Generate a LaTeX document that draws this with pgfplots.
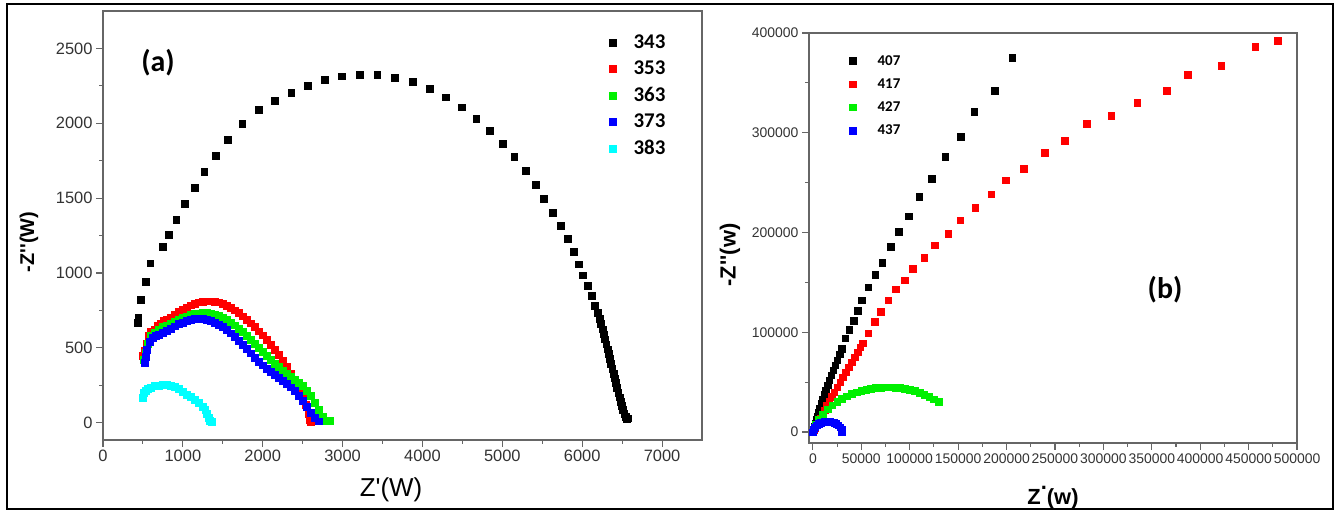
\documentclass[border=0pt]{standalone}
\usepackage{pgfplots}
\pgfplotsset{compat=1.18}
\usepackage{fontspec}
\setmainfont{Liberation Sans}
\newfontfamily\calfont{Carlito}
\definecolor{cgreen}{RGB}{0,240,0}
\definecolor{ccyan}{RGB}{0,255,255}
\definecolor{cred}{RGB}{255,0,0}
\definecolor{cblue}{RGB}{0,0,255}
\pgfplotsset{
  myaxis/.style={
    anchor=south west, scale only axis,
    axis line style={black!60, line width=1.3bp},
    every tick/.style={black!60, line width=1.1bp},
    tick align=outside, tick pos=left,
    major tick length=7bp, minor tick length=4bp,
    scaled ticks=false,
    /pgf/number format/fixed,
    /pgf/number format/1000 sep={},
    /pgf/number format/assume math mode=true,
    ticklabel style={text=black!80},
    legend cell align=left,
  }
}
\begin{document}
\begin{tikzpicture}[x=1bp,y=1bp]
\useasboundingbox (0,0) rectangle (1341,511);
\draw[line width=2bp] (7,2) rectangle (1333,507);
% ---------------- panel (a)
\begin{axis}[myaxis,
  at={(103bp,71bp)}, width=599bp, height=429bp,
  xmin=0, xmax=7500, ymin=-115, ymax=2750,
  xtick={0,1000,...,7000}, ytick={0,500,...,2500},
  minor x tick num=1, minor y tick num=1,
  ticklabel style={font=\fontsize{16.5}{18}\selectfont},
  legend image code/.code={\draw[#1] plot coordinates {(0bp,0bp)}; \path (-4bp,0bp) (19bp,0bp);},
  legend style={draw=none, fill=none, inner sep=0pt, column sep=0pt, at={(0.843,0.949)}, anchor=north west,
    font=\calfont\bfseries\fontsize{21}{24}\selectfont, row sep=7bp},
]
\addplot[only marks, mark=square*, mark size=3.4bp, black] coordinates {
(430,670)(440,700)(469,822)(536,944)(592,1066)(743,1177)(821,1254)(916,1354)(1022,1465)(1145,1569)
(1267,1675)(1407,1786)(1558,1893)(1742,1999)(1949,2092)(2150,2150)(2356,2203)(2563,2250)(2775,2289)
(2993,2314)(3210,2325)(3434,2323)(3657,2305)(3875,2276)(4093,2230)(4288,2174)(4489,2108)(4673,2032)
(4841,1953)(5003,1866)(5148,1775)(5293,1682)(5416,1591)(5522,1494)(5634,1405)(5734,1314)(5818,1228)
(5891,1144)(5952,1059)(6002,986)(6064,918)(6114,849)(6153,782)(6190,735)
(6215,695)(6235,660)(6252,625)(6268,592)(6284,558)(6300,525)(6315,492)(6330,460)(6345,427)(6360,395)
(6375,362)(6390,330)(6405,298)(6420,266)(6435,234)(6450,202)(6465,171)(6480,141)(6495,112)(6510,85)
(6525,60)(6540,40)(6550,30)(6560,25)(6565,30)
};
\addlegendentry{343}
\addplot[only marks, mark=square*, mark size=3.4bp, cred] coordinates {
(500,450)(520,480)(540,530)(570,580)(600,610)(640,620)(680,650)(720,660)(760,680)(800,690)
(850,700)(900,720)(950,740)(1000,755)(1050,770)(1100,785)(1150,795)(1200,805)(1250,810)(1300,812)
(1350,812)(1400,810)(1450,805)(1500,795)(1550,782)(1600,768)(1650,752)(1700,733)(1750,712)(1800,690)
(1850,665)(1900,640)(1950,612)(2000,585)(2050,555)(2100,522)(2150,490)(2200,455)(2250,415)(2300,375)
(2350,330)(2400,285)(2450,235)(2500,175)(2540,120)(2570,60)(2590,20)(2600,5)
};
\addlegendentry{353}
\addplot[only marks, mark=square*, mark size=3.4bp, cgreen] coordinates {
(510,420)(530,470)(560,530)(600,580)(650,600)(700,620)(750,640)(800,650)(850,660)(900,675)
(950,690)(1000,700)(1050,710)(1100,720)(1150,728)(1200,732)(1250,735)(1300,735)(1350,732)(1400,725)
(1450,715)(1500,703)(1550,690)(1600,672)(1650,652)(1700,630)(1750,607)(1800,583)(1850,557)(1900,530)
(1950,502)(2000,475)(2050,448)(2100,420)(2150,395)(2200,372)(2250,350)(2300,330)(2350,310)(2400,290)
(2450,268)(2500,245)(2550,215)(2600,180)(2650,135)(2700,85)(2750,40)(2800,15)(2840,15)
};
\addlegendentry{363}
\addplot[only marks, mark=square*, mark size=3.4bp, cblue] coordinates {
(520,400)(530,440)(550,490)(580,540)(620,570)(660,580)(700,590)(750,600)(800,615)(850,630)
(900,645)(950,660)(1000,670)(1050,680)(1100,688)(1150,693)(1200,695)(1250,695)(1300,690)(1350,682)
(1400,670)(1450,655)(1500,640)(1550,620)(1600,598)(1650,575)(1700,550)(1750,522)(1800,494)(1850,465)
(1900,437)(1950,410)(2000,385)(2050,362)(2100,342)(2150,322)(2200,302)(2250,282)(2300,260)(2350,238)
(2400,212)(2450,180)(2500,145)(2550,108)(2600,68)(2650,35)(2700,10)
};
\addlegendentry{373}
\addplot[only marks, mark=square*, mark size=3.4bp, ccyan] coordinates {
(500,170)(510,200)(530,215)(560,225)(600,235)(650,245)(700,250)(750,255)(800,255)(850,250)
(900,240)(950,225)(1000,205)(1050,190)(1100,172)(1150,155)(1200,135)(1250,110)(1280,85)(1300,60)
(1320,35)(1340,15)(1360,5)
};
\addlegendentry{383}
\end{axis}
\node[font=\calfont\bfseries\fontsize{30}{36}\selectfont] at (158,448) {(a)};
\node[rotate=90, font=\bfseries\fontsize{20}{24}\selectfont] at (29,269) {-Z\textquotesingle\textquotesingle(W)};
\node[font=\fontsize{26}{30}\selectfont] at (391,21) {Z\textquotesingle(W)};
% ---------------- panel (b)
\begin{axis}[myaxis,
  at={(809bp,68bp)}, width=488bp, height=410bp,
  xmin=-4000, xmax=500000, ymin=-11000, ymax=400000,
  xtick={0,50000,...,500000}, ytick={0,100000,...,400000},
  minor x tick num=1, minor y tick num=1,
  ticklabel style={font=\fontsize{14}{16}\selectfont},
  legend image code/.code={\draw[#1] plot coordinates {(0bp,0bp)}; \path (-4bp,0bp) (23bp,0bp);},
  legend style={draw=none, fill=none, inner sep=0pt, column sep=0pt, at={(0.080,0.951)}, anchor=north west,
    font=\calfont\bfseries\fontsize{15}{18}\selectfont, row sep=8bp},
]
\addplot[only marks, mark=square*, mark size=3.3bp, black] coordinates {
(205700,375000)(187450,342300)(166670,321300)(152680,296300)(136560,275700)(122560,254000)
(109840,235700)(98810,216300)(88640,200700)(80160,185700)(71670,169700)(64460,158000)(57250,145000)
(50470,132300)(46230,121700)(41990,111700)(37320,102300)(33500,94000)(29690,83300)
(27500,78000)(25000,72000)(23000,67000)(21000,62000)(19000,57000)(17000,52000)(15000,47000)
(13000,42000)(11500,37500)(10000,33000)(8500,28500)(7000,24000)(5700,20000)(4500,16000)
(3500,12500)(2500,9000)(1700,6000)(1000,3000)
};
\addlegendentry{407}
\addplot[only marks, mark=square*, mark size=3.3bp, cred] coordinates {
(480080,392300)(456750,386300)(421550,367300)(386780,358300)(365150,342300)(335040,330300)
(307900,317300)(282870,309000)(259970,292300)(239190,279700)(217990,264000)(199330,252300)
(184060,238300)(167520,225000)(152250,212300)(139530,199000)(125960,187300)(114930,174700)
(103060,164000)(94570,152300)(85670,143000)(77610,132300)(69980,120700)(63620,110700)(57250,99000)
(51740,89000)(49000,85000)(46000,80000)(43000,75000)(40000,70000)(37000,65000)(34000,60000)
(31000,55000)(28000,50000)(25000,45000)(22000,40000)(19500,35500)(17000,31000)(14500,26500)
(12000,22000)(10000,18000)(8000,14000)(6000,10500)(4000,7000)(2500,4500)(1000,2000)
};
\addlegendentry{417}
\addplot[only marks, mark=square*, mark size=3.3bp, cgreen] coordinates {
(1000,3000)(3000,8000)(6000,13000)(10000,18000)(15000,23000)(20000,27000)(25000,30500)(30000,33500)
(35000,36000)(40000,38300)(45000,40000)(50000,41500)(55000,42700)(60000,43600)(65000,44200)
(70000,44600)(75000,44800)(80000,44800)(85000,44600)(90000,44200)(95000,43500)(100000,42500)
(105000,41200)(110000,39600)(115000,37700)(120000,35500)(125000,33000)(130000,30500)
};
\addlegendentry{427}
\addplot[only marks, mark=square*, mark size=3.3bp, cblue] coordinates {
(0,0)(1000,3000)(2000,5000)(4000,7000)(6000,8500)(8000,9500)(10000,10000)(12000,10500)(14000,10700)
(16000,10700)(18000,10500)(20000,10000)(22000,9200)(24000,8200)(26000,6800)(28000,5000)(29500,3000)
(30000,1500)(30000,0)
};
\addlegendentry{437}
\end{axis}
\node[font=\calfont\bfseries\fontsize{30}{36}\selectfont] at (1165,221) {(b)};
\node[rotate=90, font=\bfseries\fontsize{22}{26}\selectfont] at (730,256) {-Z\textquotesingle\textquotesingle(w)};
\node[anchor=base, font=\bfseries\fontsize{22}{26}\selectfont] at (1053,6) {Z\raisebox{0.7em}{.}(w)};
\end{tikzpicture}
\end{document}
